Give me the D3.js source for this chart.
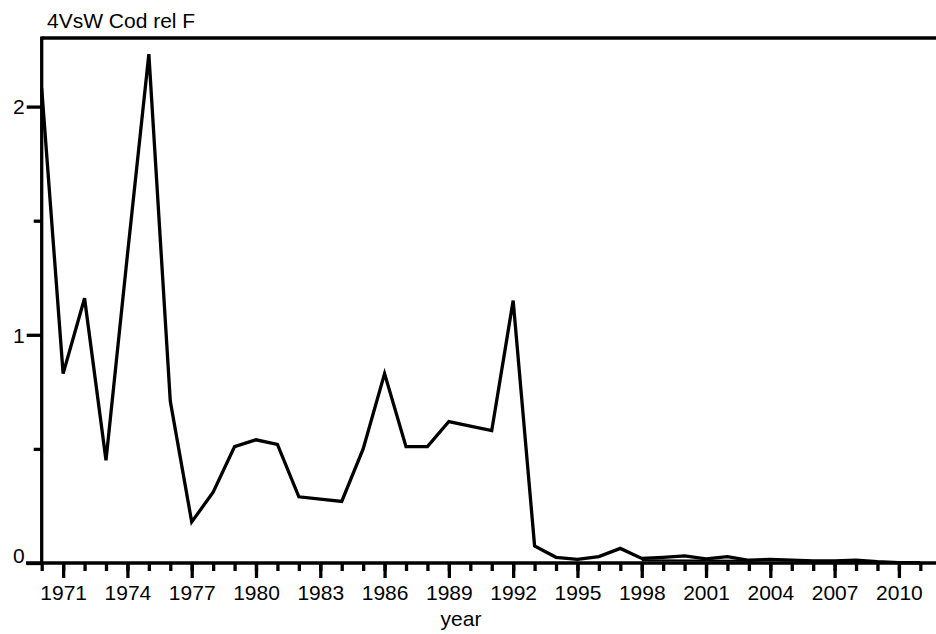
<!DOCTYPE html>
<html>
<head>
<meta charset="utf-8">
<script src="https://cdn.jsdelivr.net/npm/d3@7"></script>
<style>
  html, body { margin: 0; padding: 0; background: #fff; }
  svg { display: block; }
  text { font-family: "Liberation Sans", Arial, sans-serif; fill: #000; }
</style>
</head>
<body>
<svg id="chart" width="936" height="634"></svg>
<script>
// Relative fishing mortality, 4VsW cod
const years = d3.range(1970, 2012);
const relF = [
  2.08, 0.83, 1.16, 0.45, 1.35, 2.23, 0.71, 0.18, 0.31, 0.51,
  0.54, 0.52, 0.29, 0.28, 0.27, 0.50, 0.83, 0.51, 0.51, 0.62,
  0.60, 0.58, 1.15, 0.075, 0.025, 0.016, 0.028, 0.064, 0.020, 0.025,
  0.031, 0.018, 0.028, 0.012, 0.016, 0.013, 0.009, 0.009, 0.013, 0.006,
  0.002, 0.001
];
// short second trace lying just above the axis
const altYears = [1998, 2003];
const altRelF = [0.012, 0.010];

const yMajorTicks = [0, 1, 2];
const yMinorTicks = [0.5, 1.5];
const xMajorTicks = d3.range(1971, 2012, 3);
const xAllTicks = d3.range(1970, 2013);

const titleText = "4VsW Cod rel F";
const xTitle = "year";

const svg = d3.select("#chart");
const W = 936, H = 634;
const plotLeft = 41.7, plotTop = 38, plotBottom = 563;

const x = d3.scaleLinear().domain([1970, 2010]).range([plotLeft, 898.9]);
const y = d3.scaleLinear().domain([0, 2]).range([plotBottom, 106.6]);

const ink = "#000";
const fontSize = 21;
const fontFamily = '"Liberation Sans", Arial, sans-serif';
const axisWidth = 3.3;

// top border of the frame
svg.append("line")
  .attr("x1", plotLeft).attr("x2", W + 5).attr("y1", plotTop).attr("y2", plotTop)
  .attr("stroke", ink).attr("stroke-width", axisWidth);

// x axis: minor ticks every year, labelled major ticks every 3 years
const xMinorAxis = d3.axisBottom(x).tickValues(xAllTicks).tickSize(8).tickFormat("");
const gxMinor = svg.append("g").attr("transform", `translate(0,${plotBottom})`).call(xMinorAxis);
gxMinor.select(".domain").remove();
gxMinor.selectAll("line").attr("stroke", ink).attr("stroke-width", axisWidth);

const xMajorAxis = d3.axisBottom(x).tickValues(xMajorTicks).tickSize(15).tickFormat(d3.format("d"));
const gxMajor = svg.append("g").attr("transform", `translate(0,${plotBottom})`).call(xMajorAxis);
gxMajor.select(".domain").remove();
gxMajor.selectAll("line").attr("stroke", ink).attr("stroke-width", axisWidth);
gxMajor.selectAll("text")
  .attr("y", 37).attr("dy", null)
  .style("font-size", fontSize + "px")
  .style("font-family", fontFamily)
  .attr("fill", ink);

// y axis: labelled ticks at whole numbers, short ticks at halves
const yMinorAxis = d3.axisLeft(y).tickValues(yMinorTicks).tickSize(8).tickFormat("");
const gyMinor = svg.append("g").attr("transform", `translate(${plotLeft},0)`).call(yMinorAxis);
gyMinor.select(".domain").remove();
gyMinor.selectAll("line").attr("stroke", ink).attr("stroke-width", axisWidth);

const yMajorAxis = d3.axisLeft(y).tickValues(yMajorTicks).tickSize(15).tickPadding(2).tickFormat(d3.format("d"));
const gyMajor = svg.append("g").attr("transform", `translate(${plotLeft},0)`).call(yMajorAxis);
gyMajor.select(".domain").remove();
gyMajor.selectAll("line").attr("stroke", ink).attr("stroke-width", axisWidth);
gyMajor.selectAll("text")
  .style("font-size", fontSize + "px")
  .style("font-family", fontFamily)
  .attr("fill", ink)
  .attr("dy", d => d === 0 ? "-0.02em" : "0.35em");

// axis lines
svg.append("line")
  .attr("x1", plotLeft).attr("x2", plotLeft).attr("y1", plotTop - 1.6).attr("y2", plotBottom)
  .attr("stroke", ink).attr("stroke-width", axisWidth);
svg.append("line")
  .attr("x1", 26).attr("x2", W + 5).attr("y1", plotBottom).attr("y2", plotBottom)
  .attr("stroke", ink).attr("stroke-width", axisWidth);

// series
const line = d3.line().x(d => x(d[0])).y(d => y(d[1]));
svg.append("path")
  .datum(altYears.map((yr, i) => [yr, altRelF[i]]))
  .attr("d", line)
  .attr("fill", "none").attr("stroke", ink).attr("stroke-width", 2);
svg.append("path")
  .datum(years.map((yr, i) => [yr, relF[i]]))
  .attr("d", line)
  .attr("fill", "none").attr("stroke", ink).attr("stroke-width", 3.3)
  .attr("stroke-linejoin", "miter");

// titles
svg.append("text")
  .attr("x", 47).attr("y", 28)
  .style("font-size", fontSize + "px")
  .text(titleText);
svg.append("text")
  .attr("x", 461).attr("y", 626)
  .attr("text-anchor", "middle")
  .style("font-size", fontSize + "px")
  .text(xTitle);
</script>
</body>
</html>
